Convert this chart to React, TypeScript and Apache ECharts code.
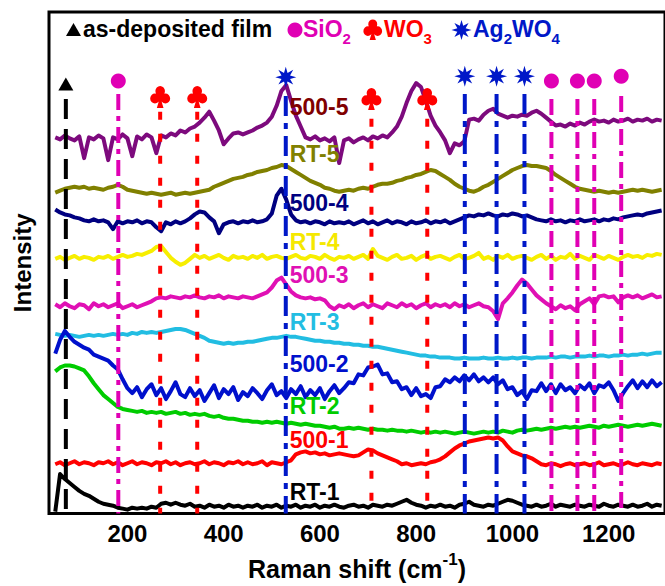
import { useEffect, useRef } from "react";
import * as echarts from "echarts";

const FONT = '"Liberation Sans", Arial, Helvetica, sans-serif';

// Sampling grid of the spectra (cm-1)
const SHIFT_START = 50;
const SHIFT_STEP = 10;

const tickValues = [200, 400, 600, 800, 1000, 1200];

const sampleNames = ["500-5", "RT-5", "500-4", "RT-4", "500-3", "RT-3", "500-2", "RT-2", "500-1", "RT-1"];

// Stacked Raman spectra, intensity in arbitrary units (offsets included)
const spec500_5 = [
  381, 379, 383, 380, 378, 382, 360, 381, 379, 383,
  380, 358, 381, 379, 384, 380, 362, 382, 379, 384,
  381, 365, 383, 381, 385, 383, 388, 386, 390, 392,
  396, 401, 407, 398, 388, 374, 380, 385, 386, 384,
  386, 388, 391, 393, 396, 402, 413, 428, 434, 418,
  403, 392, 381, 379, 382, 378, 380, 377, 381, 355,
  378, 380, 376, 379, 381, 378, 382, 380, 383, 381,
  386, 392, 402, 416, 428, 436, 432, 418, 403, 393,
  386, 378, 365, 375, 373, 377, 399, 400, 398, 404,
  408, 410, 405, 403, 401, 403, 402, 404, 403, 406,
  408, 405, 401, 397, 393, 394, 392, 395, 393, 396,
  394, 397, 399, 397, 398, 396, 399, 397, 398, 400,
  397, 399, 398, 400, 397, 399, 398,
];

const specRT5 = [
  325, 327, 329, 330, 331, 330, 331, 329, 330, 329,
  328, 330, 331, 333, 331, 328, 327, 326, 325, 324,
  325, 324, 323, 324, 325, 323, 324, 325, 324, 325,
  326, 327, 328, 331, 333, 335, 337, 339, 340, 341,
  343, 344, 346, 347, 348, 350, 351, 353, 352, 349,
  346, 343, 340, 337, 335, 333, 330, 329, 327, 326,
  327, 328, 327, 329, 330, 329, 331, 333, 334, 334,
  335, 337, 338, 340, 341, 343, 344, 346, 348, 347,
  344, 341, 338, 334, 331, 329, 327, 326, 328, 331,
  333, 336, 339, 342, 345, 348, 350, 352, 353, 352,
  352, 351, 350, 347, 343, 340, 337, 334, 331, 329,
  328, 327, 326, 327, 326, 325, 326, 325, 326, 327,
  328, 327, 328, 327, 326, 327, 328,
];

const spec500_4 = [
  308, 305, 303, 302, 300, 299, 297, 296, 298, 296,
  297, 295, 288, 296, 294, 296, 295, 297, 294, 296,
  295, 290, 286, 295, 293, 296, 294, 296, 299, 303,
  306, 305, 300, 296, 284, 293, 295, 296, 294, 296,
  295, 297, 295, 296, 298, 304, 322, 329, 318, 303,
  297, 295, 296, 294, 296, 295, 293, 296, 294, 295,
  294, 296, 293, 295, 297, 294, 296, 293, 295, 297,
  294, 296, 295, 293, 296, 294, 295, 297, 294, 296,
  295, 297, 294, 296, 298, 300, 302, 301, 303, 302,
  304, 302, 301, 303, 302, 304, 303, 301, 302, 300,
  298, 297, 296, 298, 296, 297, 295, 297, 296, 298,
  296, 297, 298, 296, 298, 297, 299, 298, 300, 301,
  302, 303, 302, 304, 305, 306, 307,
];

const specRT4 = [
  258, 260, 257, 259, 261, 258, 260, 259, 257, 260,
  259, 261, 258, 260, 262, 260, 261, 263, 262, 264,
  266, 270, 271, 265, 259, 255, 252, 254, 258, 262,
  259, 261, 258, 260, 262, 259, 257, 261, 259, 260,
  258, 261, 259, 262, 258, 260, 261, 259, 258, 260,
  262, 259, 258, 261, 260, 258, 262, 259, 257, 260,
  259, 261, 258, 260, 262, 258, 268, 261, 259, 257,
  260, 262, 258, 259, 261, 257, 260, 262, 258, 260,
  261, 259, 257, 260, 262, 258, 259, 261, 264, 258,
  260, 257, 261, 259, 262, 258, 260, 261, 259, 257,
  260, 262, 258, 261, 257, 260, 259, 263, 258, 261,
  259, 257, 262, 260, 258, 261, 259, 257, 260, 262,
  260, 261, 259, 262, 261, 263, 262,
];

const spec500_3 = [
  212, 209, 213, 210, 208, 212, 211, 207, 213, 210,
  212, 209, 211, 213, 208, 210, 212, 209, 211, 213,
  215, 218, 219, 218, 220, 219, 218, 220, 219, 221,
  219, 218, 220, 219, 221, 218, 220, 219, 218, 220,
  219, 218, 220, 222, 224, 229, 236, 239, 232, 225,
  221, 219, 218, 219, 217, 218, 216, 210, 207, 211,
  209, 212, 208, 211, 213, 209, 212, 210, 208, 213,
  211, 209, 213, 210, 212, 208, 211, 213, 209, 212,
  210, 212, 209, 213, 210, 212, 209, 211, 213, 210,
  209, 205, 197, 213, 218, 224, 231, 237, 233, 227,
  221, 217, 213, 210, 207, 211, 208, 210, 206, 212,
  215, 218, 212, 220, 221, 219, 220, 214, 219, 221,
  219, 221, 218, 220, 222, 219, 220,
];

const specRT3 = [
  182, 181, 180, 181, 180, 179, 180, 181, 180, 181,
  180, 181, 182, 181, 182, 181, 183, 182, 184, 183,
  184, 183, 184, 185, 186, 187, 187, 186, 184, 182,
  180, 178, 175, 174, 173, 172, 173, 172, 173, 173,
  174, 174, 175, 176, 177, 178, 178, 179, 180, 179,
  179, 178, 177, 176, 175, 175, 174, 174, 173, 173,
  172, 172, 171, 171, 170, 170, 169, 169, 168, 167,
  166, 165, 164, 163, 162, 161, 160, 160, 159, 159,
  158, 158, 158, 157, 157, 158, 157, 157, 157, 158,
  157, 157, 158, 157, 157, 158, 157, 158, 158, 157,
  158, 158, 158, 159, 158, 159, 159, 158, 159, 159,
  159, 160, 159, 160, 160, 159, 160, 160, 161, 160,
  161, 161, 162, 161, 162, 163, 163,
];

const spec500_2 = [
  162, 176, 185, 179, 174, 171, 168, 166, 161, 159,
  157, 155, 150, 146, 136, 127, 122, 128, 118, 126,
  131, 120, 127, 116, 124, 133, 121, 118, 127, 119,
  125, 114, 122, 130, 117, 126, 121, 128, 115, 123,
  119, 127, 122, 116, 125, 131, 120, 124, 117, 126,
  121, 129, 118, 125, 120, 127, 116, 124, 130, 122,
  127, 133, 132, 141, 140, 148, 149, 151, 141, 142,
  133, 134, 126, 128, 120, 127, 119, 121, 117, 128,
  129, 136, 133, 138, 134, 140, 135, 141, 134, 138,
  133, 138, 131, 135, 126, 128, 120, 124, 116, 125,
  124, 132, 124, 131, 122, 131, 125, 128, 122, 130,
  126, 132, 122, 130, 128, 133, 125, 114, 122, 129,
  135, 127, 134, 128, 135, 129, 133,
];

const specRT2 = [
  144, 148, 150, 150, 149, 147, 145, 139, 132, 126,
  120, 116, 112, 108, 106, 105, 104, 103, 104, 102,
  103, 102, 103, 101, 102, 103, 101, 102, 100, 101,
  100, 101, 99, 98, 99, 97, 96, 96, 95, 94,
  94, 93, 93, 92, 93, 92, 93, 92, 91, 92,
  91, 90, 91, 90, 89, 89, 88, 87, 88, 86,
  86, 87, 86, 87, 86, 85, 86, 85, 85, 84,
  85, 84, 84, 83, 84, 83, 82, 83, 82, 83,
  82, 83, 82, 81, 82, 83, 82, 81, 82, 83,
  82, 83, 82, 84, 83, 82, 84, 85, 84, 85,
  86, 85, 86, 87, 86, 87, 88, 87, 88, 87,
  88, 89, 88, 87, 89, 88, 89, 90, 89, 88,
  89, 90, 89, 90, 91, 90, 89,
];

const spec500_1 = [
  50, 52, 49, 51, 53, 50, 52, 51, 49, 52,
  51, 53, 50, 52, 49, 51, 53, 50, 52, 51,
  49, 52, 51, 53, 50, 52, 49, 51, 52, 50,
  51, 53, 50, 52, 51, 49, 52, 51, 53, 50,
  52, 50, 51, 53, 49, 52, 51, 50, 52, 54,
  60, 62, 63, 61, 62, 60, 61, 59, 60, 61,
  60, 59, 58, 59, 62, 65, 64, 61, 59, 57,
  55, 53, 50, 51, 49, 50, 51, 50, 52, 53,
  55, 58, 62, 66, 69, 71, 73, 74, 75, 76,
  77, 76, 77, 74, 68, 63, 61, 59, 58, 56,
  53, 50, 49, 51, 50, 48, 50, 51, 49, 50,
  51, 49, 50, 52, 49, 50, 51, 49, 50, 52,
  50, 49, 51, 50, 49, 51, 50,
];

const specRT1 = [
  2, 40, 35, 31, 27, 23, 20, 18, 15, 12,
  10, 9, 8, 6, 5, 4, 6, 5, 6, 5,
  7, 6, 10, 11, 9, 11, 9, 8, 10, 7,
  8, 6, 9, 7, 8, 6, 9, 7, 8, 6,
  8, 7, 9, 6, 8, 7, 9, 6, 8, 7,
  9, 6, 8, 7, 9, 6, 8, 7, 9, 7,
  6, 8, 9, 7, 8, 6, 9, 8, 7, 9,
  8, 10, 12, 14, 11, 9, 8, 6, 8, 7,
  9, 7, 8, 6, 9, 10, 12, 9, 8, 7,
  9, 8, 10, 12, 14, 13, 11, 9, 8, 7,
  9, 7, 8, 10, 7, 9, 8, 7, 9, 8,
  7, 9, 8, 7, 10, 8, 7, 9, 8, 7,
  9, 7, 8, 10, 7, 9, 8,
];

const spectra = [spec500_5, specRT5, spec500_4, specRT4, spec500_3, specRT3, spec500_2, specRT2, spec500_1, specRT1];

// Reference band positions (cm-1)
const filmPeaks = [72];
const sio2Peaks = [181, 1081, 1135, 1170, 1226];
const wo3Peaks = [268, 345, 707, 823];
const ag2wo4Peaks = [529, 901, 967, 1025];

// Styling and layout
const lineColors = ["#7d0a7d", "#808000", "#000080", "#f7ee00", "#e010b4", "#22bde2", "#0010cc", "#00cc00", "#ff0000", "#000000"];
const labelColors = ["#800000", "#808000", "#000080", "#f5e800", "#e010b4", "#22bde2", "#0010cc", "#00cc00", "#ff0000", "#000000"];
const LABEL_SHIFT = 537;
const labelLevels = [412, 364, 315, 275, 242, 194, 152, 109, 75, 22];

const bandLayout: Record<string, { top: number[]; mark: number[] }> = {
  film: { top: [420], mark: [435] },
  sio2: { top: [425, 420, 420, 420, 423], mark: [438, 438, 438, 438, 443] },
  wo3: { top: [407, 407, 400, 400], mark: [422, 422, 420, 420] },
  ag: { top: [423, 425, 425, 425], mark: [442, 443, 443, 443] },
};

const CLUB_PATH =
  "M27,25a23,23 0 1,0 46,0a23,23 0 1,0 -46,0Z" +
  "M2,58a23,23 0 1,0 46,0a23,23 0 1,0 -46,0Z" +
  "M52,58a23,23 0 1,0 46,0a23,23 0 1,0 -46,0Z" +
  "M50,40L30,62L70,62Z" +
  "M50,50L34,100L66,100Z";

function starPoints(cx: number, cy: number, rOuter: number, rInner: number, n = 8): number[][] {
  const pts: number[][] = [];
  for (let k = 0; k < 2 * n; k++) {
    const a = -Math.PI / 2 + (k * Math.PI) / n;
    const r = k % 2 === 0 ? rOuter : rInner;
    pts.push([cx + r * Math.cos(a), cy + r * Math.sin(a)]);
  }
  return pts;
}

const STAR_PATH =
  "M" + starPoints(50, 50, 50, 22).map((p) => p[0].toFixed(2) + "," + p[1].toFixed(2)).join("L") + "Z";

echarts.graphic.registerShape("club", echarts.graphic.extendPath(CLUB_PATH, {}) as any);

const families = [
  { key: "film", peaks: filmPeaks, color: "#000000", dash: [20, 10], symbol: "triangle", size: [15, 13] },
  { key: "sio2", peaks: sio2Peaks, color: "#e000b4", dash: [16, 6, 5, 6], symbol: "circle", size: 15 },
  { key: "wo3", peaks: wo3Peaks, color: "#ff0000", dash: [8, 14], symbol: "path://" + CLUB_PATH, size: [20, 22] },
  { key: "ag", peaks: ag2wo4Peaks, color: "#0018c8", dash: [20, 7, 6, 7], symbol: "path://" + STAR_PATH, size: 21 },
];

function legendGraphic() {
  const main = (color: string) => ({ fontSize: 23, fontWeight: "bold", fontFamily: FONT, lineHeight: 34, fill: color });
  const sub = (color: string) => ({ fontSize: 15, fontWeight: "bold", fontFamily: FONT, lineHeight: 15, verticalAlign: "bottom", fill: color });
  const richText = (x: number, text: string, color: string) => ({
    type: "text",
    x,
    y: 29,
    style: { text, textVerticalAlign: "middle", verticalAlign: "middle", rich: { m: main(color), s: sub(color) } },
  });
  return [
    { type: "polygon", shape: { points: [[66, 36], [81, 36], [73.5, 23]] }, style: { fill: "#000" } },
    richText(83, "{m|as-deposited film}", "#000"),
    { type: "circle", shape: { cx: 295, cy: 30, r: 7.5 }, style: { fill: "#e000b4" } },
    richText(303, "{m|SiO}{s|2}", "#e000b4"),
    { type: "club", x: 363, y: 19, scaleX: 0.195, scaleY: 0.21, style: { fill: "#ff0000" } },
    richText(384, "{m|WO}{s|3}", "#ff0000"),
    { type: "polygon", shape: { points: starPoints(461.5, 30, 10, 4.5) }, style: { fill: "#0018c8" } },
    richText(473, "{m|Ag}{s|2}{m|WO}{s|4}", "#0018c8"),
  ];
}

function buildOption() {
  const spectrumSeries = spectra.map((vals, k) => ({
    name: sampleNames[k],
    type: "line",
    data: vals.map((v, i) => [SHIFT_START + i * SHIFT_STEP, v]),
    showSymbol: false,
    symbol: "none",
    lineStyle: { width: 4, color: lineColors[k], join: "round" },
    z: 2,
    silent: true,
  }));

  const bandLines = families.flatMap((f) =>
    f.peaks.map((p, j) => ({
      type: "line",
      data: [[p, bandLayout[f.key].top[j]], [p, 0]],
      symbol: "none",
      showSymbol: false,
      lineStyle: { color: f.color, width: 4, type: f.dash },
      z: 3,
      silent: true,
    }))
  );

  const bandMarkers = families.map((f) => ({
    type: "scatter",
    data: f.peaks.map((p, j) => [p, bandLayout[f.key].mark[j]]),
    symbol: f.symbol,
    symbolSize: f.size,
    itemStyle: { color: f.color, opacity: 1 },
    z: 4,
    silent: true,
  }));

  const labelSeries = {
    type: "scatter",
    symbolSize: 0,
    silent: true,
    z: 5,
    itemStyle: { opacity: 1 },
    data: sampleNames.map((n, k) => ({
      value: [LABEL_SHIFT, labelLevels[k]],
      label: {
        show: true,
        position: "right",
        distance: 0,
        formatter: n,
        color: labelColors[k],
        opacity: 1,
        fontSize: 23,
        fontWeight: "bold",
        fontFamily: FONT,
      },
    })),
  };

  return {
    animation: false,
    backgroundColor: "#ffffff",
    grid: { left: 49, right: -3, top: 12, bottom: 66, show: true, borderColor: "#000", borderWidth: 3, backgroundColor: "transparent" },
    xAxis: {
      type: "value",
      min: 37,
      max: 1317,
      axisLine: { show: false },
      axisTick: { show: false },
      splitLine: { show: false },
      axisLabel: {
        customValues: tickValues,
        formatter: (v: number) => String(v),
        fontSize: 24,
        fontWeight: "bold",
        fontFamily: FONT,
        color: "#000",
        margin: 8,
      },
      name: "{m|Raman shift (cm}{s|-1}{m|)}",
      nameLocation: "middle",
      nameGap: 34,
      nameTextStyle: {
        rich: {
          m: { fontSize: 25, fontWeight: "bold", fontFamily: FONT, color: "#000", lineHeight: 36 },
          s: { fontSize: 17, fontWeight: "bold", fontFamily: FONT, color: "#000", lineHeight: 17, verticalAlign: "top" },
        },
      },
    },
    yAxis: {
      type: "value",
      min: 0,
      max: 508,
      axisLine: { show: false },
      axisTick: { show: false },
      axisLabel: { show: false },
      splitLine: { show: false },
      name: "Intensity",
      nameLocation: "middle",
      nameRotate: 90,
      nameGap: 15,
      nameTextStyle: { fontSize: 24, fontWeight: "bold", fontFamily: FONT, color: "#000" },
    },
    graphic: { elements: legendGraphic() },
    series: [...spectrumSeries, ...bandLines, ...bandMarkers, labelSeries],
  };
}

export default function App() {
  const ref = useRef<HTMLDivElement>(null);
  useEffect(() => {
    if (!ref.current) return;
    const chart = echarts.init(ref.current, null, { renderer: "svg" });
    chart.setOption(buildOption() as any);
    return () => chart.dispose();
  }, []);
  return <div ref={ref} style={{ position: "absolute", left: 0, top: 0, width: 665, height: 586 }} />;
}
